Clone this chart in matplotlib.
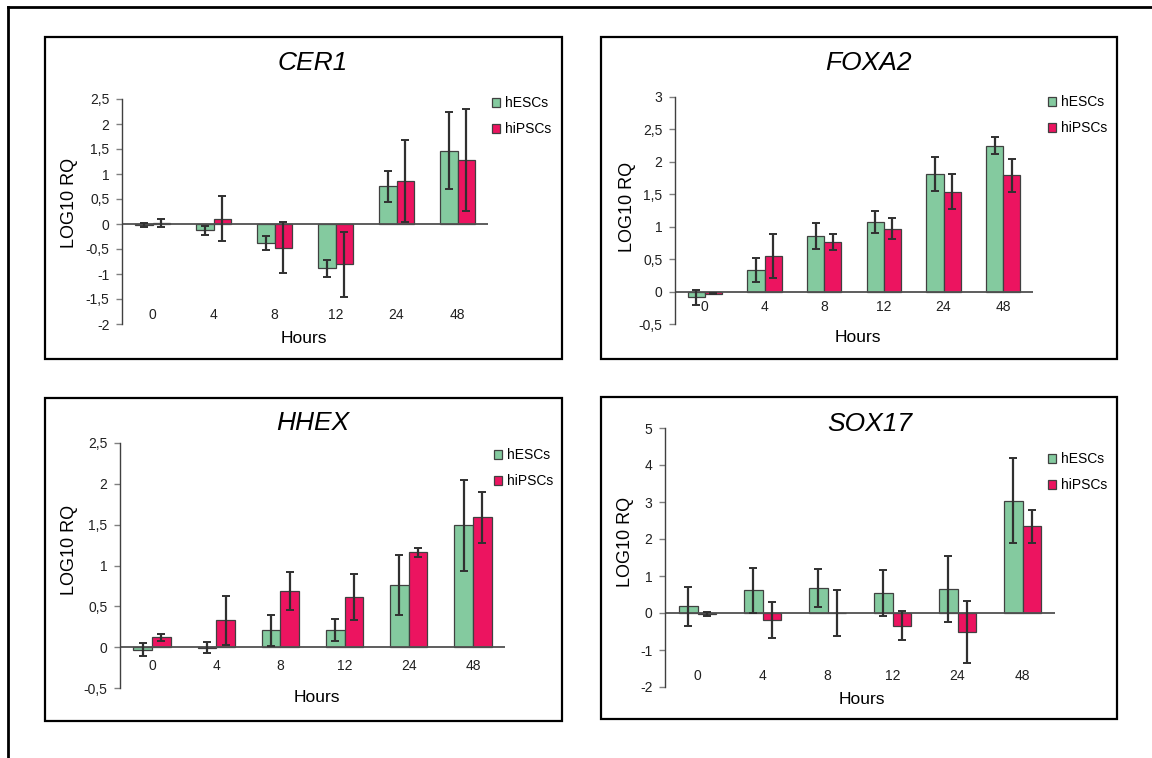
import numpy as np
import matplotlib
matplotlib.use("Agg")
import matplotlib.pyplot as plt
from matplotlib.patches import Rectangle
from matplotlib.lines import Line2D
from matplotlib.transforms import blended_transform_factory

plt.rcParams['font.family'] = ['Liberation Sans', 'DejaVu Sans']
plt.rcParams['axes.unicode_minus'] = False

W, H = 1152, 758

## data
hours = ['0', '4', '8', '12', '24', '48']
series = ['hESCs', 'hiPSCs']
green = '#84CA9F'
red = '#EC1460'

cer1_esc = [-0.02, -0.12, -0.37, -0.88, 0.76, 1.47]
cer1_esc_err = [0.04, 0.09, 0.14, 0.17, 0.31, 0.77]
cer1_ipsc = [0.03, 0.11, -0.47, -0.80, 0.87, 1.28]
cer1_ipsc_err = [0.08, 0.45, 0.51, 0.65, 0.82, 1.02]

foxa2_esc = [-0.09, 0.33, 0.85, 1.07, 1.81, 2.25]
foxa2_esc_err = [0.11, 0.18, 0.20, 0.17, 0.26, 0.13]
foxa2_ipsc = [-0.03, 0.55, 0.76, 0.97, 1.54, 1.79]
foxa2_ipsc_err = [0.01, 0.34, 0.12, 0.16, 0.27, 0.25]

hhex_esc = [-0.03, -0.005, 0.21, 0.21, 0.76, 1.49]
hhex_esc_err = [0.08, 0.07, 0.19, 0.14, 0.37, 0.56]
hhex_ipsc = [0.12, 0.33, 0.69, 0.61, 1.16, 1.59]
hhex_ipsc_err = [0.04, 0.30, 0.23, 0.28, 0.06, 0.31]

sox17_esc = [0.18, 0.61, 0.68, 0.55, 0.65, 3.04]
sox17_esc_err = [0.53, 0.61, 0.51, 0.62, 0.90, 1.14]
sox17_ipsc = [-0.03, -0.19, 0.0, -0.34, -0.51, 2.34]
sox17_ipsc_err = [0.06, 0.48, 0.63, 0.39, 0.84, 0.45]

genes = ['CER1', 'FOXA2', 'HHEX', 'SOX17']
esc_vals = [cer1_esc, foxa2_esc, hhex_esc, sox17_esc]
esc_errs = [cer1_esc_err, foxa2_esc_err, hhex_esc_err, sox17_esc_err]
ipsc_vals = [cer1_ipsc, foxa2_ipsc, hhex_ipsc, sox17_ipsc]
ipsc_errs = [cer1_ipsc_err, foxa2_ipsc_err, hhex_ipsc_err, sox17_ipsc_err]
yticks = [np.arange(-2, 2.51, 0.5), np.arange(-0.5, 3.01, 0.5),
          np.arange(-0.5, 2.51, 0.5), np.arange(-2, 5.01, 1)]

## layout in pixels of the reference
# axes box: left, top, right, bottom
axbox = [(122, 99, 488, 324), (675, 97, 1033, 324),
         (120, 443, 505, 688), (665, 428, 1055, 687)]
frame = [(45, 37, 562, 359), (601, 37, 1117, 359),
         (45, 398, 562, 721), (601, 397, 1117, 719)]
title_xy = [(313, 63), (868, 63), (313, 423), (870, 424)]
hours_xy = [(304, 339), (858, 337), (317, 698), (862, 699)]
ylab_xy = [(69, 203), (627, 207), (70, 550), (626, 542)]
xlab_y = [315, 307, 666, 676]
leg_xy = [(492, 101), (1048, 100), (494, 453), (1048, 457)]


def fx(px):
    return px / W


def fy(py):
    return 1 - py / H


def fmt(v):
    return ('%g' % round(v, 2)).replace('.', ',')


fig = plt.figure(figsize=(W / 100, H / 100), dpi=100)

# outer frame
fig.add_artist(Line2D([fx(8), fx(8)], [fy(7), 0], color='black', lw=2))
fig.add_artist(Line2D([fx(8), 1], [fy(7), fy(7)], color='black', lw=2))

x = np.arange(len(hours))
w = 0.29
for i in range(4):
    l, t, r, b = axbox[i]
    ax = fig.add_axes([fx(l), fy(b), fx(r) - fx(l), fy(t) - fy(b)])
    ax.patch.set_visible(False)
    ekw = dict(ecolor='#303030', elinewidth=1.6, capsize=3, capthick=1.4)
    b1 = ax.bar(x - w / 2, esc_vals[i], w, yerr=esc_errs[i], color=green,
                edgecolor='#404040', linewidth=0.9, error_kw=ekw, label=series[0])
    b2 = ax.bar(x + w / 2, ipsc_vals[i], w, yerr=ipsc_errs[i], color=red,
                edgecolor='#404040', linewidth=0.9, error_kw=ekw, label=series[1])
    ax.axhline(0, color='#505050', lw=1.3, zorder=1)
    ax.set_xlim(-0.5, len(hours) - 0.5)
    yt = yticks[i]
    ax.set_ylim(yt[0], yt[-1])
    ax.set_yticks(yt)
    ax.set_yticklabels([fmt(v) for v in yt])
    ax.tick_params(axis='y', direction='out', length=4, width=1, color='#808080',
                   labelsize=10, pad=5, labelcolor='#202020')
    ax.set_xticks([])
    for s in ['top', 'right', 'bottom']:
        ax.spines[s].set_visible(False)
    ax.spines['left'].set_color('#404040')
    ax.spines['left'].set_linewidth(1)

    # hour labels sit inside the axes, near the bottom
    tr = blended_transform_factory(ax.transData, fig.transFigure)
    for xi, h in zip(x, hours):
        ax.text(xi, fy(xlab_y[i]), h, transform=tr, ha='center', va='center',
                fontsize=10, color='#202020')

    fig.text(fx(title_xy[i][0]), fy(title_xy[i][1]), genes[i], style='italic',
             fontsize=19, ha='center', va='center')
    fig.text(fx(hours_xy[i][0]), fy(hours_xy[i][1]), 'Hours', fontsize=12.5,
             ha='center', va='center')
    fig.text(fx(ylab_xy[i][0]), fy(ylab_xy[i][1]), 'LOG10 RQ', fontsize=13,
             ha='center', va='center', rotation=90)

    ax.legend(handles=[b1, b2], loc='upper left',
              bbox_to_anchor=(fx(leg_xy[i][0]), fy(leg_xy[i][1] - 5)),
              bbox_transform=fig.transFigure, frameon=False, borderpad=0,
              borderaxespad=0, handlelength=0.6, handleheight=0.6,
              handletextpad=0.3, labelspacing=0.88, fontsize=10)

    fl, ft, fr, fb = frame[i]
    fig.add_artist(Rectangle((fx(fl), fy(fb)), fx(fr) - fx(fl), fy(ft) - fy(fb),
                             fill=False, edgecolor='black', lw=1.6,
                             transform=fig.transFigure))

fig.savefig('out.png', dpi=100)
